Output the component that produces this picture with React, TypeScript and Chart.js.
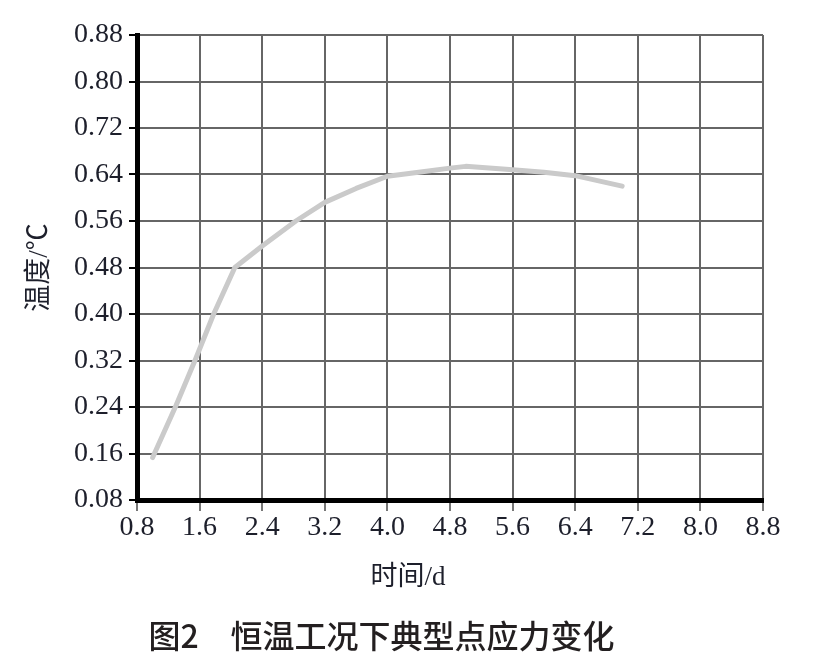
import React, { useEffect, useRef } from 'react';
import { Chart, registerables } from 'chart.js';

Chart.register(...registerables);

const timeDays = [1.0, 1.3, 1.55, 1.78, 2.05, 2.4, 2.83, 3.2, 3.6, 4.0, 4.4, 4.8, 5.0, 5.6, 6.0, 6.4, 7.0];
const temperature = [0.153, 0.243, 0.323, 0.4, 0.48, 0.517, 0.56, 0.592, 0.616, 0.637, 0.644, 0.651, 0.654, 0.648, 0.644, 0.638, 0.62];
const xTickValues = [0.8, 1.6, 2.4, 3.2, 4.0, 4.8, 5.6, 6.4, 7.2, 8.0, 8.8];
const yTickValues = [0.08, 0.16, 0.24, 0.32, 0.4, 0.48, 0.56, 0.64, 0.72, 0.8, 0.88];
const xTitle = '时间/d';
const yTitle = '温度/℃';
const caption = '图2　恒温工况下典型点应力变化';

const SERIF = "'Liberation Serif', 'Times New Roman', 'Noto Sans CJK SC', serif";
const CJK = "'Noto Sans CJK SC', sans-serif";
const TEXT = '#1d1f2b';

export default function App() {
  const ref = useRef<HTMLCanvasElement>(null);

  useEffect(() => {
    const xTitlePlugin = {
      id: 'xTitlePlugin',
      afterDraw(chart: any) {
        const { ctx, chartArea } = chart;
        const xs = chart.scales.x;
        ctx.save();
        ctx.font = `27px ${SERIF}`;
        ctx.fillStyle = TEXT;
        ctx.textAlign = 'center';
        ctx.textBaseline = 'middle';
        ctx.fillText(xTitle, chartArea.left + chartArea.width * 0.433, xs.bottom - 22);
        ctx.restore();
      },
    };

    const chart = new Chart(ref.current as HTMLCanvasElement, {
      type: 'line',
      data: {
        datasets: [
          {
            data: timeDays.map((x, i) => ({ x, y: temperature[i] })),
            borderColor: '#cacaca',
            borderWidth: 5,
            pointRadius: 0,
            tension: 0,
            borderCapStyle: 'round',
            borderJoinStyle: 'round',
          } as any,
        ],
      },
      options: {
        responsive: false,
        animation: false,
        layout: { padding: { top: 35, right: 50, left: 0, bottom: 0 } },
        plugins: {
          legend: { display: false },
          tooltip: { enabled: false },
          title: {
            display: true,
            position: 'bottom',
            text: caption,
            color: '#231f20',
            font: { family: CJK, size: 32, weight: '500', lineHeight: 1.2 },
            padding: { top: 17, bottom: 8.6 },
          },
        },
        scales: {
          x: {
            type: 'linear',
            min: 0.8,
            max: 8.8,
            afterBuildTicks: (s: any) => {
              s.ticks = xTickValues.map((v) => ({ value: v }));
            },
            afterFit: (s: any) => {
              s.height = 100;
            },
            ticks: {
              font: { family: SERIF, size: 28 },
              color: TEXT,
              padding: 0,
              maxRotation: 0,
              autoSkip: false,
              callback: (v: any) => Number(v).toFixed(1),
            },
            grid: { color: '#666', lineWidth: 2, tickLength: 11, tickColor: '#777' },
            border: { color: '#000', width: 5 },
          },
          y: {
            type: 'linear',
            min: 0.08,
            max: 0.88,
            afterBuildTicks: (s: any) => {
              s.ticks = yTickValues.map((v) => ({ value: v }));
            },
            afterFit: (s: any) => {
              s.width = 137;
            },
            ticks: {
              font: { family: SERIF, size: 28 },
              color: TEXT,
              padding: 6,
              autoSkip: false,
              callback: (v: any) => Number(v).toFixed(2),
            },
            grid: { color: '#666', lineWidth: 2, tickLength: 8, tickColor: '#000' },
            border: { color: '#000', width: 5 },
            title: {
              display: true,
              text: yTitle,
              color: TEXT,
              font: { family: SERIF, size: 27, lineHeight: 1.2 },
              padding: { top: 24, bottom: 0 },
            },
          },
        },
      },
      plugins: [xTitlePlugin],
    });
    return () => chart.destroy();
  }, []);

  return (
    <div style={{ position: 'fixed', left: 0, top: 0, width: 813, height: 664, background: '#fff' }}>
      <canvas ref={ref} width={813} height={664} style={{ display: 'block' }} />
    </div>
  );
}
